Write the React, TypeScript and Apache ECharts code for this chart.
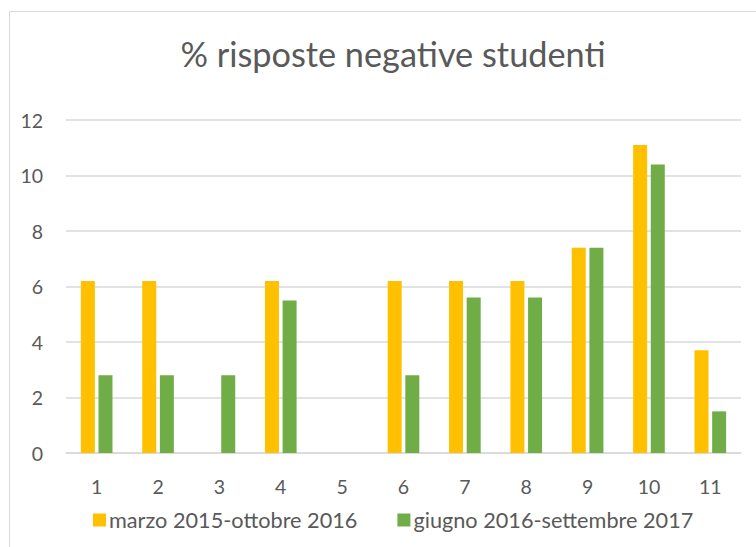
import React, { useEffect, useRef } from "react";
import * as echarts from "echarts";

const categories = ["1", "2", "3", "4", "5", "6", "7", "8", "9", "10", "11"];
const seriesNames = ["marzo 2015-ottobre 2016", "giugno 2016-settembre 2017"];
const seriesA = [6.2, 6.2, 0, 6.2, 0, 6.2, 6.2, 6.2, 7.4, 11.1, 3.7];
const seriesB = [2.8, 2.8, 2.8, 5.5, 0, 2.8, 5.6, 5.6, 7.4, 10.4, 1.5];
const titleText = "% risposte negative studenti";

const FONT = "Lato";
const TEXT = "#595959";
const GRID = "#d9d9d9";

export default function App() {
  const ref = useRef<HTMLDivElement>(null);
  useEffect(() => {
    if (!ref.current) return;
    const chart = echarts.init(ref.current, null, { renderer: "svg" });
    chart.setOption({
      animation: false,
      backgroundColor: "#ffffff",
      textStyle: { fontFamily: FONT },
      title: {
        text: titleText,
        left: 388,
        top: 31,
        textAlign: "center",
        textStyle: { fontFamily: FONT, fontSize: 34.3, fontWeight: "normal", color: TEXT },
      },
      graphic: [
        {
          type: "rect",
          shape: { x: 9.5, y: 11.5, width: 900, height: 700 },
          style: { fill: "none", stroke: GRID, lineWidth: 1 },
          silent: true,
        },
      ],
      legend: {
        top: 504,
        left: 88,
        itemWidth: 13,
        itemHeight: 13,
        itemGap: 40,
        icon: "rect",
        textStyle: { fontFamily: FONT, fontSize: 21.7, color: TEXT, padding: [0, 0, 0, -2] },
        data: seriesNames,
      },
      grid: { left: 66, right: 15, top: 120, bottom: 94 },
      xAxis: {
        type: "category",
        data: categories,
        axisLine: { lineStyle: { color: GRID, width: 1.5 } },
        axisTick: { show: false },
        axisLabel: { fontFamily: FONT, fontSize: 19.5, color: TEXT, margin: 23 },
      },
      yAxis: {
        type: "value",
        min: 0,
        max: 12,
        interval: 2,
        axisLine: { show: false },
        axisTick: { show: false },
        splitLine: { lineStyle: { color: GRID, width: 1.5 } },
        axisLabel: { fontFamily: FONT, fontSize: 19.5, color: TEXT, margin: 23 },
      },
      series: [
        {
          name: seriesNames[0],
          type: "bar",
          data: seriesA,
          barWidth: 14,
          barGap: "26%",
          itemStyle: { color: "#FFC000" },
        },
        {
          name: seriesNames[1],
          type: "bar",
          data: seriesB,
          barWidth: 14,
          barGap: "26%",
          itemStyle: { color: "#70AD47" },
        },
      ],
    });
    return () => chart.dispose();
  }, []);
  return (
    <div
      ref={ref}
      style={{ position: "fixed", left: 0, top: 0, width: 756, height: 547 }}
    />
  );
}
